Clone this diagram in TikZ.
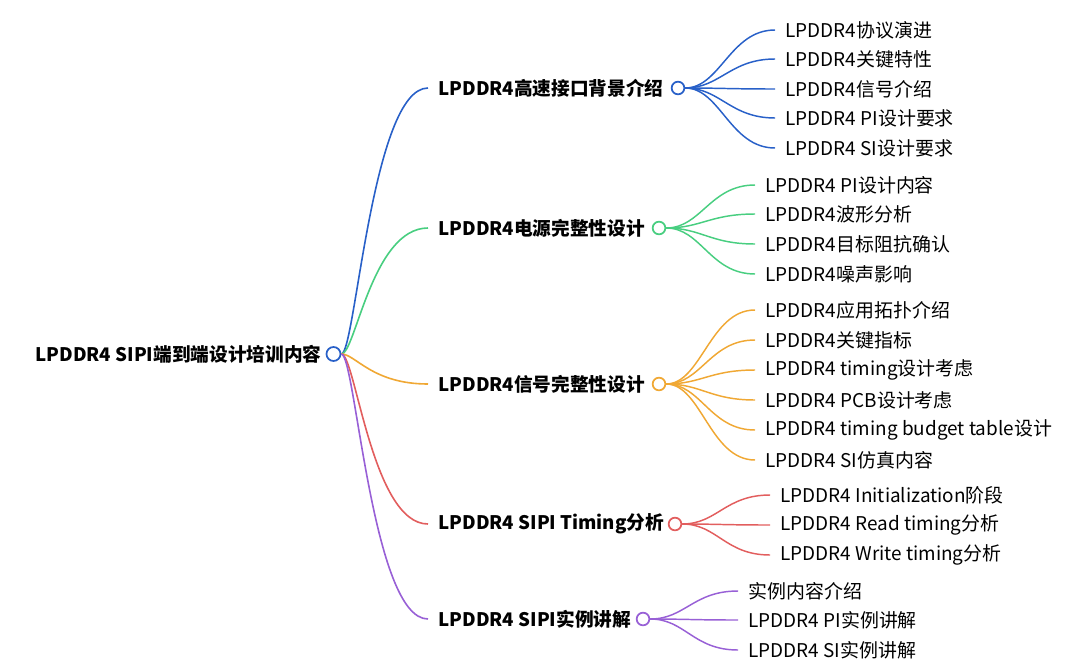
\documentclass[tikz,border=0pt]{standalone}
\usepackage{fontspec}
\setmainfont{Noto Sans CJK SC}
\usetikzlibrary{positioning}

\definecolor{lpblue}{RGB}{40,96,200}
\definecolor{lpgreen}{RGB}{72,206,128}
\definecolor{lporange}{RGB}{240,168,52}
\definecolor{lpred}{RGB}{226,94,94}
\definecolor{lppurple}{RGB}{152,96,214}

\tikzset{every picture/.style={line width=0.75pt}}
\tikzset{
  root/.style={anchor=west,inner xsep=7.5pt,inner ysep=0pt,font=\fontsize{14}{17}\selectfont\bfseries},
  topic/.style={anchor=west,inner xsep=7.5pt,inner ysep=0pt,font=\fontsize{14}{17}\selectfont\bfseries},
  leaf/.style={anchor=west,inner xsep=7.5pt,inner ysep=0pt,font=\fontsize{14.2}{17}\selectfont},
  knob/.style={circle,draw=#1,fill=white,line width=1.3pt,inner sep=0pt,minimum size=9.5pt},
  trunk/.style={draw=#1,line width=1.2pt},
  twig/.style={draw=#1,line width=1.1pt}
}

\begin{document}
\begin{tikzpicture}[x=0.75pt,y=0.75pt,yscale=-1,xscale=1]
\useasboundingbox (0,0) rectangle (1080,671);

% Root
\node [root] (rt) at (25,354) {LPDDR4 SIPI端到端设计培训内容};
\node [knob=lpblue,minimum size=10.5pt] (rtk) at (333.5,354) {};

% Topic Nodes
\node [topic] (tp1) at (428,88) {LPDDR4高速接口背景介绍};
\node [topic] (tp2) at (428,228) {LPDDR4电源完整性设计};
\node [topic] (tp3) at (428,384) {LPDDR4信号完整性设计};
\node [topic] (tp4) at (428,524) {LPDDR4 SIPI Timing分析};
\node [topic] (tp5) at (428,619) {LPDDR4 SIPI实例讲解};

\node [knob=lpblue] (k1) at (678,88) {};
\node [knob=lpgreen] (k2) at (659,228) {};
\node [knob=lporange] (k3) at (659,384) {};
\node [knob=lpred] (k4) at (675,524) {};
\node [knob=lppurple] (k5) at (643,619) {};

% Leaf Nodes: blue
\node [leaf] (a1) at (775,30) {LPDDR4协议演进};
\node [leaf] (a2) at (775,59) {LPDDR4关键特性};
\node [leaf] (a3) at (775,89) {LPDDR4信号介绍};
\node [leaf] (a4) at (775,118) {LPDDR4 PI设计要求};
\node [leaf] (a5) at (775,148) {LPDDR4 SI设计要求};
% Leaf Nodes: green
\node [leaf] (b1) at (755,185) {LPDDR4 PI设计内容};
\node [leaf] (b2) at (755,214) {LPDDR4波形分析};
\node [leaf] (b3) at (755,244) {LPDDR4目标阻抗确认};
\node [leaf] (b4) at (755,274) {LPDDR4噪声影响};
% Leaf Nodes: orange
\node [leaf] (c1) at (755,310) {LPDDR4应用拓扑介绍};
\node [leaf] (c2) at (755,340) {LPDDR4关键指标};
\node [leaf] (c3) at (755,370) {LPDDR4 timing设计考虑};
\node [leaf] (c4) at (755,400) {LPDDR4 PCB设计考虑};
\node [leaf] (c5) at (755,430) {LPDDR4 timing budget table设计};
\node [leaf] (c6) at (755,460) {LPDDR4 SI仿真内容};
% Leaf Nodes: red
\node [leaf] (d1) at (770,495) {LPDDR4 Initialization阶段};
\node [leaf] (d2) at (770,525) {LPDDR4 Read timing分析};
\node [leaf] (d3) at (770,555) {LPDDR4 Write timing分析};
% Leaf Nodes: purple
\node [leaf] (e1) at (738,591) {实例内容介绍};
\node [leaf] (e2) at (738,620) {LPDDR4 PI实例讲解};
\node [leaf] (e3) at (738,650) {LPDDR4 SI实例讲解};

% Root curves
\draw [trunk=lpblue] (rtk.east) .. controls +(14,0) and +(-56,0) .. (tp1.west);
\draw [trunk=lpgreen] (rtk.east) .. controls +(14,0) and +(-56,0) .. (tp2.west);
\draw [trunk=lporange] (rtk.east) .. controls +(14,0) and +(-56,0) .. (tp3.west);
\draw [trunk=lpred] (rtk.east) .. controls +(14,0) and +(-56,0) .. (tp4.west);
\draw [trunk=lppurple] (rtk.east) .. controls +(14,0) and +(-56,0) .. (tp5.west);

% Blue twigs
\draw [twig=lpblue] (k1.east) .. controls +(35,0) and +(-45,0) .. (a1.west);
\draw [twig=lpblue] (k1.east) .. controls +(35,0) and +(-45,0) .. (a2.west);
\draw [twig=lpblue] (k1.east) .. controls +(35,0) and +(-45,0) .. (a3.west);
\draw [twig=lpblue] (k1.east) .. controls +(35,0) and +(-45,0) .. (a4.west);
\draw [twig=lpblue] (k1.east) .. controls +(35,0) and +(-45,0) .. (a5.west);
% Green twigs
\draw [twig=lpgreen] (k2.east) .. controls +(35,0) and +(-45,0) .. (b1.west);
\draw [twig=lpgreen] (k2.east) .. controls +(35,0) and +(-45,0) .. (b2.west);
\draw [twig=lpgreen] (k2.east) .. controls +(35,0) and +(-45,0) .. (b3.west);
\draw [twig=lpgreen] (k2.east) .. controls +(35,0) and +(-45,0) .. (b4.west);
% Orange twigs
\draw [twig=lporange] (k3.east) .. controls +(35,0) and +(-45,0) .. (c1.west);
\draw [twig=lporange] (k3.east) .. controls +(35,0) and +(-45,0) .. (c2.west);
\draw [twig=lporange] (k3.east) .. controls +(35,0) and +(-45,0) .. (c3.west);
\draw [twig=lporange] (k3.east) .. controls +(35,0) and +(-45,0) .. (c4.west);
\draw [twig=lporange] (k3.east) .. controls +(35,0) and +(-45,0) .. (c5.west);
\draw [twig=lporange] (k3.east) .. controls +(35,0) and +(-45,0) .. (c6.west);
% Red twigs
\draw [twig=lpred] (k4.east) .. controls +(35,0) and +(-45,0) .. (d1.west);
\draw [twig=lpred] (k4.east) .. controls +(35,0) and +(-45,0) .. (d2.west);
\draw [twig=lpred] (k4.east) .. controls +(35,0) and +(-45,0) .. (d3.west);
% Purple twigs
\draw [twig=lppurple] (k5.east) .. controls +(35,0) and +(-45,0) .. (e1.west);
\draw [twig=lppurple] (k5.east) .. controls +(35,0) and +(-45,0) .. (e2.west);
\draw [twig=lppurple] (k5.east) .. controls +(35,0) and +(-45,0) .. (e3.west);

\end{tikzpicture}
\end{document}
